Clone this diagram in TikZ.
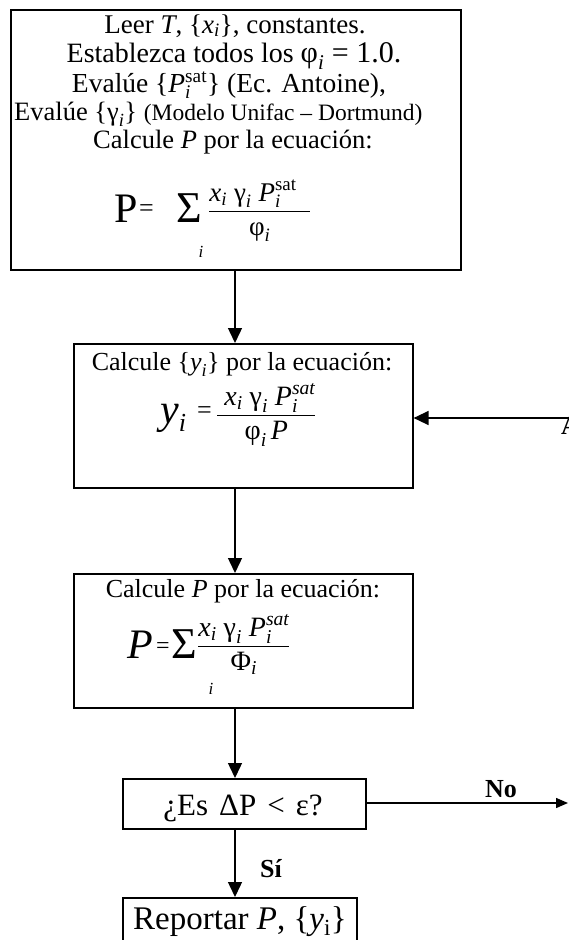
\documentclass[tikz,border=0pt]{standalone}
\usepackage{amsmath}
\usepackage{fontspec}
\setmainfont{Liberation Serif}
\usetikzlibrary{arrows.meta}
\newcommand{\ti}[1]{\text{\itshape #1}}
\newcommand{\tu}[1]{\text{\upshape #1}}
\newcommand{\fs}[1]{\fontsize{#1}{#1}\selectfont}
\begin{document}
\begin{tikzpicture}[x=1pt,y=-1pt,
  box/.style={draw,line width=1.6pt,rectangle,inner sep=0pt,anchor=north west},
  txt/.style={inner sep=0pt,anchor=base,font=\fs{26}},
  lbl/.style={inner sep=0pt,anchor=base,font=\fs{26}\bfseries},
  arr/.style={line width=1.4pt,-{Triangle[length=15pt,width=14pt]}},
  arrs/.style={line width=1.4pt,-{Triangle[length=12pt,width=10pt]}}]
\useasboundingbox (0,0) rectangle (569,940);
% boxes
\node[box,minimum width=450pt,minimum height=260pt] (b1) at (10,9) {};
\node[box,minimum width=339pt,minimum height=144pt] (b2) at (73,343) {};
\node[box,minimum width=339pt,minimum height=134pt] (b3) at (73,573) {};
\node[box,minimum width=243pt,minimum height=50pt] (b4) at (122,778) {};
\node[box,minimum width=234pt,minimum height=70pt] (b5) at (122,897) {};
% box 1 text
\node[txt,font=\fs{27}] (l1) at (235,33) {Leer \textit{T}, \{$\ti{x}_{\ti{i}}$\}, constantes.};
\node[txt,font=\fs{28}] (l2) at (234,62) {Establezca todos los {\fs{30}$\tu{φ}_{\ti{i}}$ = 1.0.}};
\node[txt,font=\fs{27.5}] (l3) at (229,92) {Evalúe \{$\ti{P}_{\ti{i}}^{\tu{sat}}$\} (Ec. Antoine),};
\node[txt,font=\fs{26.5},anchor=base west] (l4) at (14,120) {Evalúe \{$\tu{γ}_{\ti{i}}$\} {\fs{23.5}(Modelo Unifac -- Dortmund)}};
\node[txt,font=\fs{26.5}] (l5) at (233,148) {Calcule \textit{P} por la ecuación:};
\node[txt,anchor=base west,font=\fs{42}] (p1) at (114,222) {P};
\node[txt,anchor=base west,font=\fs{26}] (e1) at (139,216) {=};
\node[txt,anchor=base west,font=\fs{44}] (s1) at (176,222) {Σ};
\node[txt,anchor=base west,font=\fs{27}] (fr1) at (208,218)
  {$\dfrac{\ti{x}_{\ti{i}}\;\tu{γ}_{\ti{i}}\;\ti{P}_{\ti{i}}^{\tu{sat}}\ \ }{\tu{φ}_{\ti{i}}}$};
\node[txt,font=\fs{17}\itshape] (i1) at (201,257) {i};
% box 2 text
\node[txt] (m1) at (242,370) {Calcule \{$\ti{y}_{\ti{i}}$\} por la ecuación:};
\node[txt,anchor=base west,font=\fs{42}\itshape] (y2) at (160,423) {y\textsubscript{\fs{26}i}};
\node[txt,anchor=base west,font=\fs{26}] (e2) at (197,418) {=};
\node[txt,anchor=base west,font=\fs{28}] (fr2) at (216,422)
  {$\dfrac{\ \ti{x}_{\ti{i}}\;\tu{γ}_{\ti{i}}\;\ti{P}_{\ti{i}}^{\ti{sat}}}{\tu{φ}_{\ti{i}}\,\ti{P}}$};
% box 3 text
\node[txt] (n1) at (243,597) {Calcule \textit{P} por la ecuación:};
\node[txt,anchor=base west,font=\fs{42}\itshape] (p3) at (127,658) {P};
\node[txt,anchor=base west,font=\fs{24}] (e3) at (156,653) {=};
\node[txt,anchor=base west,font=\fs{44}] (s3) at (171,658) {Σ};
\node[txt,anchor=base west,font=\fs{28}] (fr3) at (197,653)
  {$\dfrac{\ti{x}_{\ti{i}}\;\tu{γ}_{\ti{i}}\;\ti{P}_{\ti{i}}^{\ti{sat}}}{\tu{Φ}_{\ti{i}}}$};
\node[txt,font=\fs{17}\itshape] (i3) at (211,694) {i};
% box 4 and 5 text
\node[txt,font=\fs{31}] (q) at (243,815) {¿Es\hspace{11pt}ΔP\hspace{11pt}<\hspace{11pt}ε?};
\node[txt,font=\fs{33}] (r) at (240,929) {Reportar \textit{P}, \{\textit{y}\textsubscript{i}\}};
% labels
\node[lbl] (no) at (501,797) {No};
\node[lbl] (si) at (271,877) {Sí};
\node[lbl,anchor=base west] (aa) at (561,434) {A};
% connectors
\coordinate (ax) at (235,0);
\coordinate (fb) at (580,418);
\coordinate (noend) at (568,803);
\draw[arr] (b1.south -| ax) -- (b2.north -| ax);
\draw[arr] (b2.south -| ax) -- (b3.north -| ax);
\draw[arr] (b3.south -| ax) -- (b4.north -| ax);
\draw[arr] (b4.south -| ax) -- (b5.north -| ax);
\draw[arr] (fb) -- (b2.east |- fb);
\draw[arrs] (b4.east |- noend) -- (noend);
\end{tikzpicture}
\end{document}
